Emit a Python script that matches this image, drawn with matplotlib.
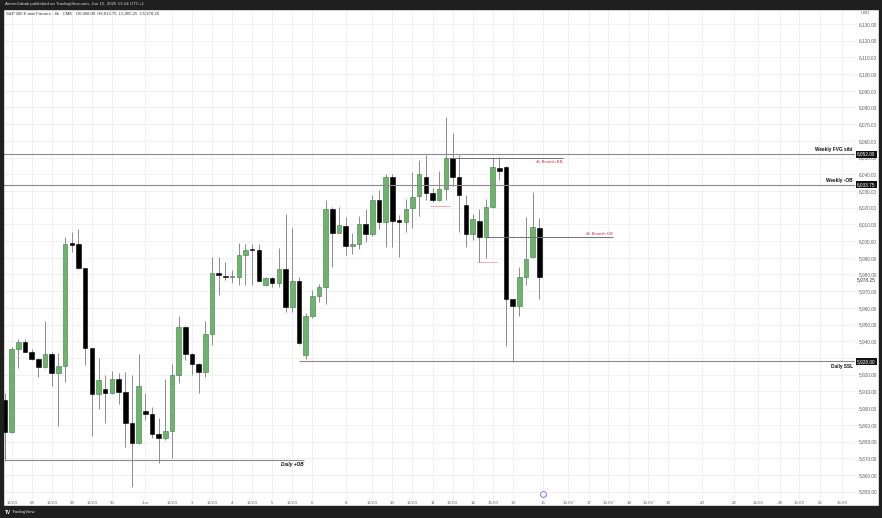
import numpy as np
import matplotlib
matplotlib.use("Agg")
import matplotlib.pyplot as plt
from matplotlib.patches import Rectangle
import matplotlib.transforms as mtransforms

plt.rcParams['font.family'] = ['Liberation Sans', 'DejaVu Sans']

# 4h bars, ES futures
opens = [5905.00, 5885.50, 5935.25, 5939.75, 5933.50, 5929.50, 5924.50, 5932.25, 5920.75, 5925.00,
         5998.25, 5998.00, 5983.75, 5935.75, 5908.50, 5911.50, 5909.00, 5917.50, 5909.75, 5891.25,
         5879.00, 5898.25, 5896.25, 5884.25, 5882.00, 5886.50, 5919.75, 5948.75, 5932.50, 5926.50,
         5921.75, 5944.25, 5980.75, 5979.25, 5978.25, 5978.75, 5991.75, 5994.75, 5994.75, 5973.75,
         5978.00, 5974.75, 5983.25, 5960.75, 5976.00, 5931.50, 5955.25, 5967.25, 5972.25, 6019.00,
         6005.00, 6009.25, 5997.25, 5998.00, 6010.00, 6004.00, 6024.50, 6011.50, 6038.25, 6012.25,
         6011.25, 6019.75, 6027.00, 6038.25, 6029.00, 6024.50, 6031.25, 6049.75, 6038.50, 6021.50,
         6004.00, 6012.25, 6002.50, 6020.25, 6044.00, 6044.50, 5965.25, 5961.25, 5978.75, 5990.25,
         6008.00]
highs = [5909.00, 5936.50, 5941.25, 5941.25, 5935.50, 5930.00, 5952.25, 5933.50, 5932.75, 6002.50,
         6005.25, 6007.25, 5984.00, 5935.75, 5930.25, 5919.75, 5922.50, 5921.00, 5921.75, 5919.75,
         5932.25, 5909.00, 5900.75, 5894.00, 5917.25, 5926.25, 5955.00, 5949.00, 5933.00, 5927.00,
         5952.25, 5990.75, 5990.50, 5987.25, 5982.75, 5998.75, 5998.00, 5998.00, 5998.50, 5978.50,
         5978.50, 5995.75, 6016.00, 6008.00, 5978.75, 5957.00, 5970.75, 5974.25, 6024.50, 6020.50,
         6020.25, 6014.50, 6004.75, 6015.00, 6019.50, 6027.50, 6030.50, 6040.25, 6040.25, 6015.50,
         6025.25, 6041.50, 6048.50, 6051.50, 6031.50, 6042.25, 6074.50, 6064.50, 6051.50, 6027.50,
         6016.50, 6019.50, 6025.50, 6049.50, 6050.25, 6045.00, 5965.50, 5984.75, 6014.25, 6029.25,
         6013.75]
lows = [5868.25, 5885.00, 5923.75, 5933.50, 5928.75, 5918.50, 5924.00, 5913.50, 5889.50, 5915.75,
        5993.25, 5983.50, 5925.75, 5883.50, 5899.25, 5891.00, 5908.50, 5902.50, 5876.50, 5852.75,
        5878.50, 5893.00, 5882.25, 5867.25, 5881.00, 5870.25, 5915.25, 5928.75, 5919.75, 5909.00,
        5918.50, 5937.75, 5967.75, 5976.75, 5975.00, 5973.75, 5973.75, 5974.00, 5976.00, 5973.00,
        5972.25, 5972.75, 5957.50, 5957.75, 5938.50, 5929.50, 5954.00, 5963.50, 5962.25, 5984.25,
        6004.75, 5991.75, 5992.25, 5995.25, 5999.50, 6003.00, 6007.00, 5996.75, 5996.75, 5990.50,
        6005.50, 6007.75, 6015.00, 6024.50, 6023.50, 6024.25, 6024.50, 6033.00, 6005.50, 5996.75,
        6000.75, 5987.75, 5989.75, 6019.75, 6036.50, 5937.25, 5927.75, 5955.25, 5973.75, 5989.75,
        5965.25]
closes = [5885.50, 5935.25, 5939.75, 5933.50, 5929.50, 5924.50, 5932.25, 5920.75, 5925.25, 5998.00,
          5997.75, 5983.75, 5935.75, 5908.50, 5916.75, 5909.00, 5917.50, 5909.75, 5891.25, 5879.00,
          5913.25, 5896.25, 5884.25, 5882.00, 5886.50, 5919.75, 5948.75, 5932.50, 5926.50, 5921.75,
          5944.25, 5980.75, 5979.50, 5978.25, 5979.00, 5991.75, 5994.75, 5994.50, 5976.25, 5978.00,
          5974.75, 5983.25, 5960.75, 5976.00, 5938.75, 5955.25, 5967.25, 5972.25, 6019.00, 6005.00,
          6009.50, 5997.25, 5998.00, 6010.00, 6004.00, 6024.50, 6011.50, 6038.25, 6012.25, 6011.50,
          6019.00, 6026.50, 6040.25, 6029.00, 6024.50, 6031.25, 6049.75, 6038.50, 6027.50, 6004.00,
          6013.25, 6002.50, 6020.25, 6044.25, 6042.25, 5965.25, 5961.25, 5978.75, 5989.25, 6008.25,
          5978.25]

# time axis labels (bar index, text)
tick_pos = [1, 4, 7, 10, 13, 16, 21, 25, 28, 31, 34, 37, 40, 43, 46, 51, 55, 58, 61, 64, 67, 70, 73, 76,
            80.6, 84.3, 87.4, 90.3, 93.4, 96.3, 99.3, 104.3, 109.1, 112.7, 116.0, 118.9, 122.0, 125.3]
tick_labels = ["15:00", "28", "15:00", "29", "15:00", "30", "Jun", "15:00", "3", "15:00", "4", "15:00",
               "5", "15:00", "6", "8", "15:00", "10", "15:00", "11", "15:00", "12", "15:00", "13",
               "15", "15:00", "17", "15:00", "18", "15:00", "19", "20", "22", "15:00", "24", "15:00",
               "25", "15:00"]

price_ticks = np.arange(5850, 6131, 10)

# drawn levels
fvg_weekly = 6052.00
ob_weekly = 6033.75
ssl_daily = 5928.00
ob_daily = 5869.00
bb_4h = 6049.75
ob_4h = 6002.50
pink_levels = [6021.00, 5987.25]

W, H = 882, 518
DARK = "#1f1f1f"

fig = plt.figure(figsize=(W / 100, H / 100), dpi=100)
fig.patch.set_facecolor("white")
ax = fig.add_axes([3 / W, 1 - 499 / H, 852 / W, 489.5 / H])
ax.set_xlim(-0.3, 127.25)
ax.set_ylim(5845.57, 6138.68)

o, hi, lo, c = map(np.array, (opens, highs, lows, closes))
x = np.arange(len(o))
up = c >= o
ax.vlines(x, lo, hi, color="#8c8c8c", lw=0.7, zorder=2)
body_lo = np.minimum(o, c)
body_h = np.maximum(np.abs(c - o), 0.9)
ax.bar(x[up], body_h[up], 0.68, bottom=body_lo[up], color="#6cb36c",
       edgecolor="#3f7a44", lw=0.4, zorder=3)
ax.bar(x[~up], body_h[~up], 0.68, bottom=body_lo[~up], color="black",
       edgecolor="black", lw=0.4, zorder=3)

# grid / axes; the 5,930 label sits under the Daily SSL box
ax.set_yticks(price_ticks)
ax.set_yticklabels(["" if p == 5930 else f"{p:,.2f}" for p in price_ticks])
ax.set_xticks(tick_pos)
ax.set_xticklabels(tick_labels)
ax.grid(True, color="#efefef", lw=0.6, zorder=0)
ax.set_axisbelow(True)
for s in ax.spines.values():
    s.set_visible(False)
ax.yaxis.tick_right()
ax.tick_params(axis="y", length=0, pad=2.5, labelsize=3.4, labelcolor="#606060")
ax.tick_params(axis="x", length=0, pad=1.2, labelsize=3.2, labelcolor="#606060")

# levels
lc = "#8a8a8a"
ax.axhline(fvg_weekly, color=lc, lw=0.8, zorder=4)
ax.axhline(ob_weekly, color=lc, lw=0.8, zorder=4)
ax.hlines(ssl_daily, 44, 127.25, color=lc, lw=0.8, zorder=4)
ax.hlines(ob_daily, 0, 44.7, color=lc, lw=0.8, zorder=4)
ax.hlines(bb_4h, 66.4, 83.5, color="#707070", lw=0.7, zorder=4)
ax.hlines(ob_4h, 72, 91, color="#707070", lw=0.7, zorder=4)
ax.hlines(pink_levels[0], 63.6, 66.6, color="#e5a3ab", lw=0.6, zorder=4)
ax.hlines(pink_levels[1], 70.6, 73.6, color="#e5a3ab", lw=0.6, zorder=4)

bold = dict(fontsize=3.4, fontweight="bold", color="#111111", zorder=6)
ax.text(126.9, fvg_weekly + 1.2, "Weekly FVG sibi", ha="right", va="bottom", **bold)
ax.text(126.9, ob_weekly + 1.2, "Weekly -OB", ha="right", va="bottom", **bold)
ax.text(126.9, ssl_daily - 1.5, "Daily SSL", ha="right", va="top", **bold)
ax.text(44.7, ob_daily - 1.5, "Daily +OB", ha="right", va="top", style="italic", **bold)
ax.text(83.5, bb_4h - 1.0, "4h Bearish BB", ha="right", va="top", fontsize=3.0, color="#d0354a", zorder=6)
ax.text(91, ob_4h + 0.8, "4h Bearish OB", ha="right", va="bottom", fontsize=3.0, color="#d0354a", zorder=6)

# price axis boxes
tr = mtransforms.blended_transform_factory(ax.transAxes, ax.transData)
for p in (fvg_weekly, ob_weekly, ssl_daily):
    ax.text(1.0025, p, f"{p:,.2f}", transform=tr, ha="left", va="center", fontsize=3.4,
            color="white", clip_on=False, zorder=10,
            bbox=dict(boxstyle="square,pad=0.25", fc="#131313", ec="none"))
ax.text(1.0025, closes[-1] - 1.6, f"{closes[-1]:,.2f}", transform=tr, ha="left", va="center",
        fontsize=3.4, color="#333333", clip_on=False, zorder=10)
fig.text(865 / W, 1 - 12.5 / H, "USD", fontsize=3.2, color="#606060", ha="center", va="center")

# purple session marker above "15"
ax.plot(tick_pos[tick_labels.index("15")], 5848.5, marker="o", ms=4.2, mfc="white",
        mec="#9b6bd6", mew=0.7, clip_on=False, zorder=7)

# frame: dark header, footer and side strips
for rx, ry, rw, rh in [(0, H - 9, W, 9), (0, 0, W, 12), (0, 0, 3, H), (879, 0, 3, H)]:
    fig.add_artist(Rectangle((rx / W, ry / H), rw / W, rh / H, transform=fig.transFigure,
                             color=DARK, zorder=20))

fig.text(5 / W, 1 - 4.5 / H, "ArtemGabak published on TradingView.com, Jun 15, 2025 13:14 UTC+1",
         fontsize=3.2, color="#d8d8d8", va="center", zorder=21)
ohlc = f"O{opens[-1]:,.2f}  H{highs[-1]:,.2f}  L{lows[-1]:,.2f}  C{closes[-1]:,.2f}"
fig.text(6 / W, 1 - 13.5 / H, "S&P 500 E-mini Futures \u00b7 4h \u00b7 CME   " + ohlc,
         fontsize=3.1, color="#333333", va="center", zorder=21)
fig.text(5 / W, 5.5 / H, "TV", fontsize=3.4, fontweight="bold", color="white", va="center", zorder=21)
fig.text(12 / W, 5.5 / H, "TradingView", fontsize=3.2, color="#e0e0e0", va="center", zorder=21)

fig.savefig("out.png", dpi=100)
